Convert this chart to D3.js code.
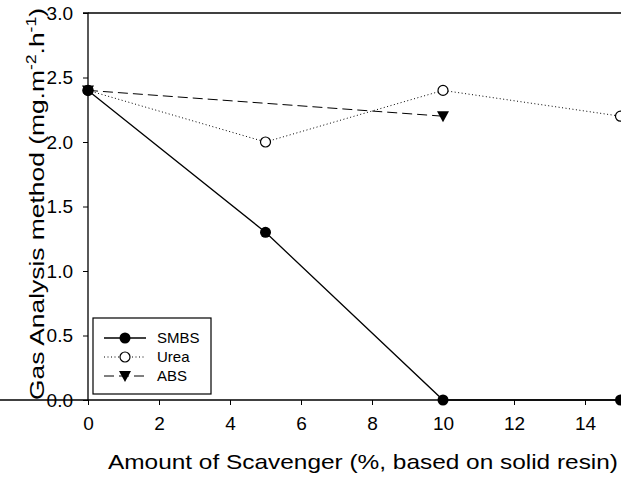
<!DOCTYPE html>
<html>
<head>
<meta charset="utf-8">
<script src="https://cdn.jsdelivr.net/npm/d3@7"></script>
<style>
  body { margin: 0; background: #fff; }
  svg { font-family: Arial, "Liberation Sans", sans-serif; display: block; }
</style>
</head>
<body>
<div id="chart"></div>
<script>
// data
const seriesNames = ["SMBS", "Urea", "ABS"];
const smbsX = [0, 5, 10, 15];
const smbsY = [2.4, 1.3, 0.0, 0.0];
const ureaX = [0, 5, 10, 15];
const ureaY = [2.4, 2.0, 2.4, 2.2];
const absX = [0, 10];
const absY = [2.4, 2.2];
const xTicks = [0, 2, 4, 6, 8, 10, 12, 14];
const yTicks = [0.0, 0.5, 1.0, 1.5, 2.0, 2.5, 3.0];

const width = 621, height = 479;
const margin = { left: 88, top: 13, bottom: 79 };

const svg = d3.select("#chart").append("svg")
    .attr("width", width)
    .attr("height", height);

// x domain runs to 15 right at the page edge
const x = d3.scaleLinear().domain([0, 15]).range([margin.left, 620.5]);
const y = d3.scaleLinear().domain([0, 3]).range([height - margin.bottom, margin.top]);

// axes, outward ticks
const xAxis = svg.append("g")
    .attr("transform", `translate(0,${y(0)})`)
    .call(d3.axisBottom(x).tickValues(xTicks).tickSize(5).tickPadding(12).tickFormat(d3.format("d")));
const yAxis = svg.append("g")
    .attr("transform", `translate(${x(0)},0)`)
    .call(d3.axisLeft(y).tickValues(yTicks).tickSize(5).tickPadding(10).tickFormat(d3.format(".1f")));

[xAxis, yAxis].forEach(a => {
    a.attr("font-size", 19).attr("font-family", null);
    a.select(".domain").attr("stroke", "#000").attr("stroke-width", 1.3);
    a.selectAll(".tick line").attr("stroke", "#000").attr("stroke-width", 1);
    a.selectAll(".tick text").attr("fill", "#000");
});
yAxis.select(".domain").attr("d", `M-5,${y(3)}H0V${y(0)}`);
xAxis.select(".domain").attr("d", `M0,0H${width}`);

// top frame line
svg.append("line")
    .attr("x1", x(0)).attr("x2", width)
    .attr("y1", y(3)).attr("y2", y(3))
    .attr("stroke", "#000").attr("stroke-width", 1.3);

const line = d3.line().x(d => x(d[0])).y(d => y(d[1]));
const series = [
    { name: "SMBS", pts: d3.zip(smbsX, smbsY), dash: null, marker: "filled" },
    { name: "Urea", pts: d3.zip(ureaX, ureaY), dash: "1,2.5", marker: "open" },
    { name: "ABS", pts: d3.zip(absX, absY), dash: "10,5", marker: "tri" }
];

function drawMarker(g, type, cx, cy) {
    if (type === "filled") {
        g.append("circle").attr("cx", cx).attr("cy", cy).attr("r", 5.5).attr("fill", "#000");
    } else if (type === "open") {
        g.append("circle").attr("cx", cx).attr("cy", cy).attr("r", 5)
            .attr("fill", "#fff").attr("stroke", "#000").attr("stroke-width", 1.2);
    } else {
        g.append("path")
            .attr("d", `M${cx - 6},${cy - 5}L${cx + 6},${cy - 5}L${cx},${cy + 6}Z`)
            .attr("fill", "#000");
    }
}

// lines first (ABS, Urea under SMBS), then markers
[series[2], series[1], series[0]].forEach(s => {
    svg.append("path")
        .datum(s.pts)
        .attr("d", line)
        .attr("fill", "none")
        .attr("stroke", "#000")
        .attr("stroke-width", s.name === "SMBS" ? 1.3 : 1)
        .attr("stroke-dasharray", s.dash);
});
[series[2], series[1], series[0]].forEach(s => {
    const g = svg.append("g");
    s.pts.forEach(p => drawMarker(g, s.marker, x(p[0]), y(p[1])));
});

// legend
const legend = svg.append("g").attr("transform", "translate(93,318)");
legend.append("rect")
    .attr("width", 118).attr("height", 76)
    .attr("fill", "#fff").attr("stroke", "#000").attr("stroke-width", 1.2);
series.forEach((s, i) => {
    const ly = 20 + i * 19;
    legend.append("line")
        .attr("x1", 11).attr("x2", 53).attr("y1", ly).attr("y2", ly)
        .attr("stroke", "#000").attr("stroke-width", s.name === "SMBS" ? 1.3 : 1)
        .attr("stroke-dasharray", s.dash);
    drawMarker(legend, s.marker, 32, ly);
    legend.append("text")
        .attr("x", 64).attr("y", ly + 5)
        .attr("font-size", 15)
        .text(s.name);
});

// axis titles
svg.append("text")
    .attr("x", 108).attr("y", 469)
    .attr("textLength", 510)
    .attr("lengthAdjust", "spacingAndGlyphs")
    .attr("font-size", 21)
    .text("Amount of Scavenger (%, based on solid resin)");

const yt = svg.append("text")
    .attr("transform", "translate(44,400) rotate(-90)")
    .attr("textLength", 392)
    .attr("lengthAdjust", "spacingAndGlyphs")
    .attr("font-size", 21);
yt.append("tspan").text("Gas Analysis method  (mg.m");
yt.append("tspan").attr("dy", -8).attr("font-size", 14).text("-2");
yt.append("tspan").attr("dy", 8).text(".h");
yt.append("tspan").attr("dy", -8).attr("font-size", 14).text("-1");
yt.append("tspan").attr("dy", 8).text(")");
</script>
</body>
</html>
